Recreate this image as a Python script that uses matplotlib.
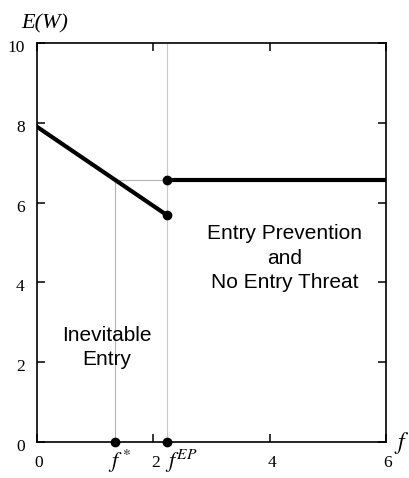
import matplotlib
matplotlib.use("Agg")
import matplotlib.pyplot as plt
import matplotlib.transforms as mtransforms

# podatki odčitani s slike
f_star = 1.34
f_ep = 2.23
entry_x = [0, f_ep]
entry_y = [7.9, 5.69]
prevent_x = [f_ep, 6]
prevent_y = [6.57, 6.57]
xticks = [0, 2, 4, 6]
yticks = [0, 2, 4, 6, 8, 10]

plt.rcParams['mathtext.fontset'] = 'stix'

fig = plt.figure(figsize=(4.09, 4.78), dpi=100)
ax = fig.add_axes([0.0905, 0.0753, 0.853, 0.8347])

# tanke sive črte
ax.plot([f_star, f_star], [0, prevent_y[0]], color='#b5b5b5', lw=0.8, zorder=1)
ax.plot([f_star, f_ep], [prevent_y[0], prevent_y[0]], color='#b5b5b5', lw=0.8, zorder=1)
ax.plot([f_ep, f_ep], [0, 10], color='#c8c8c8', lw=0.8, zorder=1)

# glavni črti
ax.plot(entry_x, entry_y, color='black', lw=3.0, solid_capstyle='round', zorder=3)
ax.plot([entry_x[-1]], [entry_y[-1]], 'o', color='black', ms=6, zorder=3)
ax.plot(prevent_x, prevent_y, color='black', lw=3.0, zorder=3)
ax.plot([prevent_x[0]], [prevent_y[0]], 'o', color='black', ms=6, zorder=3)

# pike na osi
ax.plot([f_star, f_ep], [0, 0], 'o', color='black', ms=6, clip_on=False, zorder=4)

ax.set_xlim(0, 6)
ax.set_ylim(0, 10)
ax.set_xticks(xticks)
ax.set_yticks(yticks)
ax.tick_params(direction='in', length=6, width=1.1, top=True, right=True,
               labelsize=12.5)
ax.tick_params(axis='x', pad=9)
ax.tick_params(axis='y', pad=9)
dx = mtransforms.ScaledTranslation(2 / 100, 0, fig.dpi_scale_trans)
dy = mtransforms.ScaledTranslation(0, -3 / 100, fig.dpi_scale_trans)
for lab in ax.get_xticklabels():
    lab.set_fontfamily('Liberation Serif')
    lab.set_transform(lab.get_transform() + dx)
for lab in ax.get_yticklabels():
    lab.set_fontfamily('Liberation Serif')
    lab.set_transform(lab.get_transform() + dy)
for s in ax.spines.values():
    s.set_linewidth(1.2)

# besedila
ax.text(1.2, 2.36, "Inevitable\nEntry", ha='center', va='center',
        fontsize=15, family='Liberation Sans', linespacing=1.35)
ax.text(4.26, 4.61, "Entry Prevention\nand\nNo Entry Threat", ha='center',
        va='center', fontsize=15, family='Liberation Sans', linespacing=1.35)

fig.text(45 / 409, 1 - 24 / 478, "E(W)", ha='center', va='center', fontsize=16,
         family='Liberation Serif', style='italic')
fig.text(402 / 409, 1 - 443 / 478, "$f$", ha='center', va='center', fontsize=17)
ax.text(f_star + 0.08, -0.15, "$f^*$", ha='center', va='top', fontsize=16)
ax.text(f_ep + 0.26, -0.15, "$f^{EP}$", ha='center', va='top', fontsize=16)

plt.savefig("out.png", dpi=100)
